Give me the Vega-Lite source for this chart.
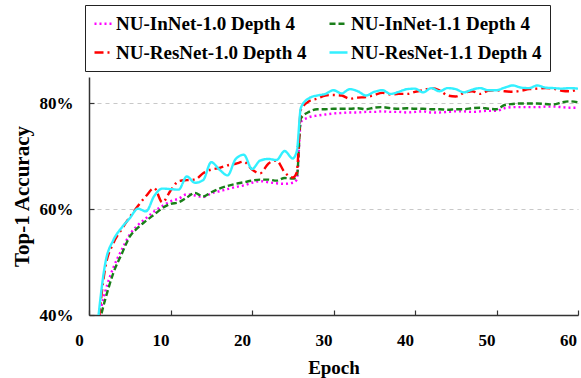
{
  "$schema": "https://vega.github.io/schema/vega-lite/v6.json",
  "width": 489,
  "height": 238,
  "autosize": {"type": "none"},
  "padding": {"left": 89, "top": 77, "right": 3, "bottom": 63},
  "background": "white",
  "config": {
    "view": {"stroke": null},
    "font": "Liberation Serif"
  },
  "data": {
    "values": [
      {"e":1,"m":38.0,"g":37.0,"r":36.0,"c":37.5},
      {"e":2,"m":44.5,"g":43.0,"r":49.0,"c":49.8},
      {"e":3,"m":49.0,"g":48.0,"r":53.6,"c":54.2},
      {"e":4,"m":52.3,"g":51.5,"r":56.2,"c":56.5},
      {"e":5,"m":55.2,"g":54.8,"r":58.5,"c":58.3},
      {"e":6,"m":57.0,"g":56.5,"r":60.6,"c":60.1},
      {"e":7,"m":58.3,"g":57.8,"r":62.5,"c":59.6},
      {"e":8,"m":59.6,"g":59.0,"r":64.0,"c":62.5},
      {"e":9,"m":60.6,"g":60.2,"r":61.3,"c":63.9},
      {"e":10,"m":61.5,"g":61.0,"r":63.5,"c":63.8},
      {"e":11,"m":62.0,"g":61.3,"r":65.3,"c":63.7},
      {"e":12,"m":62.8,"g":62.2,"r":65.5,"c":66.2},
      {"e":13,"m":62.6,"g":63.1,"r":65.6,"c":65.0},
      {"e":14,"m":62.3,"g":62.4,"r":66.8,"c":65.5},
      {"e":15,"m":63.0,"g":63.2,"r":67.5,"c":68.9},
      {"e":16,"m":63.4,"g":63.9,"r":67.8,"c":67.5},
      {"e":17,"m":63.8,"g":64.4,"r":68.3,"c":66.4},
      {"e":18,"m":64.2,"g":64.8,"r":68.6,"c":69.5},
      {"e":19,"m":64.5,"g":65.1,"r":69.0,"c":70.3},
      {"e":20,"m":65.0,"g":65.4,"r":67.5,"c":67.6},
      {"e":21,"m":65.3,"g":65.6,"r":66.8,"c":69.2},
      {"e":22,"m":65.1,"g":65.6,"r":68.6,"c":69.5},
      {"e":23,"m":64.9,"g":65.4,"r":69.2,"c":69.3},
      {"e":24,"m":64.8,"g":65.9,"r":67.0,"c":71.0},
      {"e":25,"m":65.0,"g":65.8,"r":66.0,"c":69.6},
      {"e":25.5,"m":65.6,"g":66.1,"r":67.0,"c":71.0},
      {"e":26,"m":76.5,"g":77.2,"r":78.8,"c":79.2},
      {"e":27,"m":77.4,"g":78.4,"r":80.4,"c":81.0},
      {"e":28,"m":77.7,"g":78.9,"r":80.9,"c":81.5},
      {"e":29,"m":77.9,"g":78.9,"r":81.5,"c":81.8},
      {"e":30,"m":78.1,"g":79.0,"r":81.6,"c":82.5},
      {"e":31,"m":78.2,"g":79.0,"r":81.5,"c":81.9},
      {"e":32,"m":78.3,"g":79.0,"r":80.9,"c":82.7},
      {"e":33,"m":78.3,"g":79.1,"r":81.1,"c":82.3},
      {"e":34,"m":78.4,"g":78.9,"r":81.2,"c":81.5},
      {"e":35,"m":78.4,"g":79.2,"r":81.6,"c":82.2},
      {"e":36,"m":78.5,"g":79.3,"r":82.0,"c":82.5},
      {"e":37,"m":78.4,"g":79.1,"r":81.7,"c":81.8},
      {"e":38,"m":78.4,"g":79.0,"r":81.8,"c":82.2},
      {"e":39,"m":78.3,"g":79.1,"r":81.8,"c":82.7},
      {"e":40,"m":78.4,"g":79.0,"r":82.2,"c":82.8},
      {"e":41,"m":78.5,"g":79.0,"r":82.5,"c":82.1},
      {"e":42,"m":78.3,"g":78.9,"r":82.9,"c":82.9},
      {"e":43,"m":78.3,"g":78.9,"r":82.5,"c":82.3},
      {"e":44,"m":78.4,"g":78.8,"r":81.5,"c":82.9},
      {"e":45,"m":78.5,"g":78.9,"r":81.3,"c":82.7},
      {"e":46,"m":78.5,"g":78.9,"r":82.0,"c":82.1},
      {"e":47,"m":78.4,"g":79.1,"r":82.3,"c":82.6},
      {"e":48,"m":78.5,"g":79.2,"r":81.8,"c":82.9},
      {"e":49,"m":78.6,"g":79.0,"r":82.4,"c":82.5},
      {"e":50,"m":78.6,"g":78.9,"r":82.5,"c":82.5},
      {"e":51,"m":79.1,"g":79.7,"r":82.3,"c":83.0},
      {"e":52,"m":79.3,"g":79.9,"r":82.2,"c":83.4},
      {"e":53,"m":79.3,"g":80.0,"r":82.4,"c":83.0},
      {"e":54,"m":79.3,"g":80.0,"r":82.7,"c":82.9},
      {"e":55,"m":79.3,"g":80.0,"r":82.8,"c":83.4},
      {"e":56,"m":79.4,"g":79.9,"r":82.9,"c":83.0},
      {"e":57,"m":79.4,"g":79.8,"r":82.8,"c":82.9},
      {"e":58,"m":79.3,"g":80.2,"r":82.4,"c":82.8},
      {"e":59,"m":79.2,"g":80.4,"r":82.3,"c":82.9},
      {"e":60,"m":79.2,"g":80.2,"r":82.7,"c":82.8}
    ]
  },
  "transform": [{"fold": ["m", "g", "r", "c"], "as": ["s", "v"]}],
  "mark": {"type": "line", "clip": true, "interpolate": "monotone", "strokeWidth": 2.4},
  "encoding": {
    "x": {
      "field": "e", "type": "quantitative",
      "scale": {"domain": [0, 60], "nice": false, "zero": false},
      "axis": {
        "values": [0, 10, 20, 30, 40, 50, 60],
        "title": "Epoch",
        "grid": false,
        "domainColor": "#333333", "domainWidth": 1.5,
        "tickColor": "#333333", "tickSize": -5, "tickWidth": 1.2,
        "labelFont": "Liberation Serif", "labelFontSize": 17, "labelFontWeight": "bold", "labelColor": "black",
        "labelPadding": 22, "labelOffset": -10, "labelFlush": false, "labelOverlap": false,
        "titleFont": "Liberation Serif", "titleFontSize": 19, "titleFontWeight": "bold", "titleColor": "black",
        "titlePadding": 10
      }
    },
    "y": {
      "field": "v", "type": "quantitative",
      "scale": {"domain": [40, 85], "nice": false, "zero": false},
      "axis": {
        "values": [40, 60, 80],
        "labelExpr": "datum.value + '%'",
        "title": "Top-1 Accuracy",
        "grid": true, "gridColor": "#c8c8c8", "gridDash": [4, 4], "gridWidth": 1.2,
        "domainColor": "#333333", "domainWidth": 1.5,
        "tickColor": "#333333", "tickSize": -5, "tickWidth": 1.2,
        "labelFont": "Liberation Serif", "labelFontSize": 17, "labelFontWeight": "bold", "labelColor": "black",
        "labelPadding": 21,
        "titleFont": "Liberation Serif", "titleFontSize": 21, "titleFontWeight": "bold", "titleColor": "black",
        "titlePadding": 7
      }
    },
    "color": {
      "field": "s", "type": "nominal",
      "scale": {"domain": ["m", "g", "r", "c"], "range": ["#ff00ff", "#1a7f1a", "#ff0000", "#33f0ff"]},
      "legend": {
        "title": null,
        "orient": "none", "legendX": -4, "legendY": -72,
        "direction": "horizontal", "columns": 2, "columnPadding": 17, "rowPadding": 8,
        "padding": 8, "strokeColor": "#222222", "fillColor": "white",
        "symbolType": "stroke", "symbolSize": 324, "symbolStrokeWidth": 2.4,
        "labelFont": "Liberation Serif", "labelFontSize": 19, "labelFontWeight": "bold", "labelColor": "black",
        "labelOffset": 2, "labelLimit": 400,
        "labelExpr": "datum.label == 'm' ? 'NU-InNet-1.0 Depth 4' : datum.label == 'g' ? 'NU-InNet-1.1 Depth 4' : datum.label == 'r' ? 'NU-ResNet-1.0 Depth 4' : 'NU-ResNet-1.1 Depth 4'"
      }
    },
    "strokeDash": {
      "field": "s", "type": "nominal",
      "scale": {"domain": ["m", "g", "r", "c"], "range": [[2, 3], [6, 3], [9, 4, 2, 4], [1, 0]]},
      "legend": {
        "title": null,
        "orient": "none", "legendX": -4, "legendY": -72,
        "direction": "horizontal", "columns": 2, "columnPadding": 17, "rowPadding": 8,
        "padding": 8, "strokeColor": "#222222", "fillColor": "white",
        "symbolType": "stroke", "symbolSize": 324, "symbolStrokeWidth": 2.4,
        "labelFont": "Liberation Serif", "labelFontSize": 19, "labelFontWeight": "bold", "labelColor": "black",
        "labelOffset": 2, "labelLimit": 400,
        "labelExpr": "datum.label == 'm' ? 'NU-InNet-1.0 Depth 4' : datum.label == 'g' ? 'NU-InNet-1.1 Depth 4' : datum.label == 'r' ? 'NU-ResNet-1.0 Depth 4' : 'NU-ResNet-1.1 Depth 4'"
      }
    }
  }
}
